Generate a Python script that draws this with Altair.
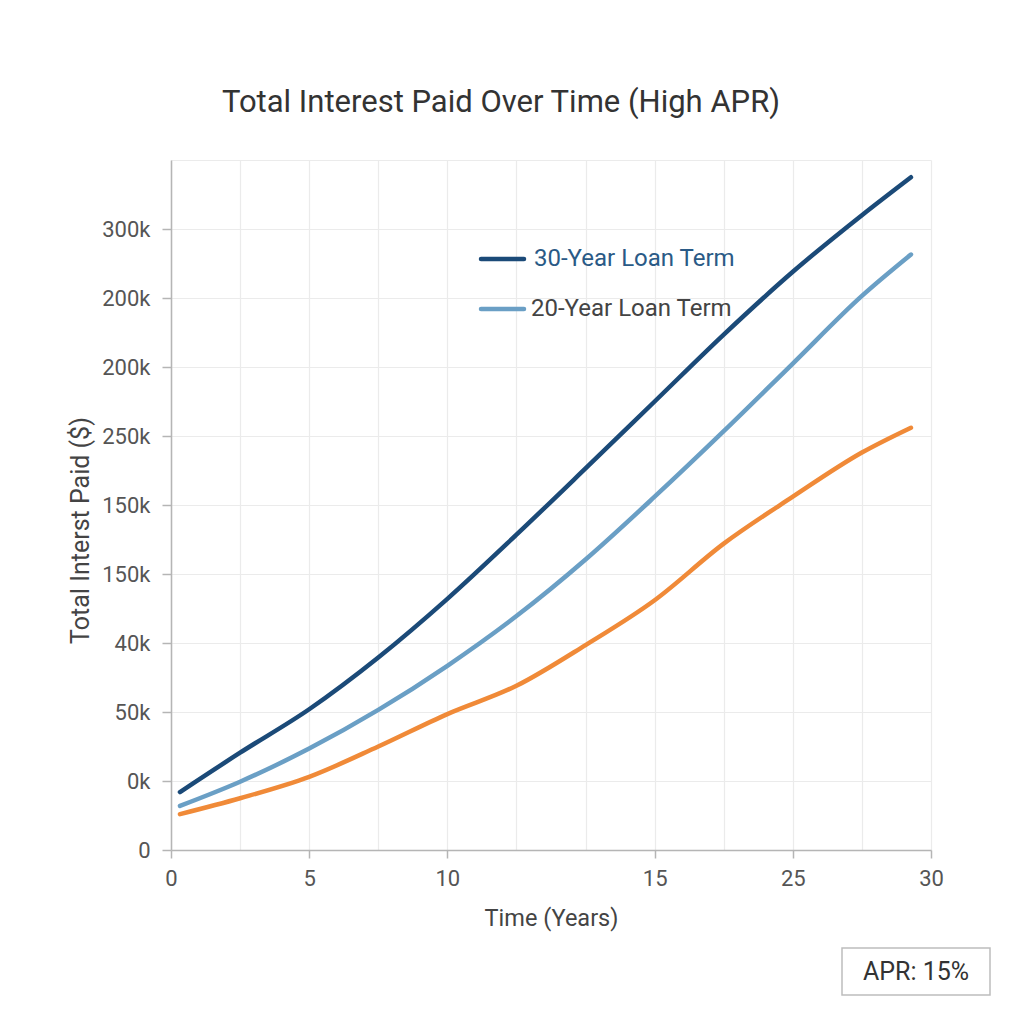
import json

import altair as alt
import pandas as pd

# Readings along the time axis, in grid steps (the axis has 11 equal steps)
steps = [0.13, 1, 2, 3, 4, 5, 6, 7, 8, 9, 10, 10.71]

# Cumulative interest, in grid steps of the value axis (10 equal steps)
interest_30yr = [0.84, 1.41, 2.04, 2.79, 3.64, 4.57, 5.53, 6.50, 7.47, 8.38, 9.20, 9.75]
interest_20yr = [0.64, 0.99, 1.47, 2.03, 2.67, 3.39, 4.21, 5.12, 6.07, 7.05, 8.03, 8.63]
interest_15yr = [0.52, 0.75, 1.06, 1.50, 1.97, 2.38, 2.97, 3.62, 4.44, 5.12, 5.76, 6.12]

terms = ["30-Year Loan Term", "20-Year Loan Term", "15-Year Loan Term"]
term_colors = ["#1b4a78", "#6a9fc5", "#f08a38"]

# Tick labels
x_tick_steps = [0, 2, 4, 7, 9, 11]
x_tick_labels = ["0", "5", "10", "15", "25", "30"]
y_tick_labels = ["0", "0k", "50k", "40k", "150k", "150k", "250k", "200k", "200k", "300k"]

apr_text = "APR: 15%"

rows = []
for term, values in zip(terms, [interest_30yr, interest_20yr, interest_15yr]):
    for s, v in zip(steps, values):
        rows.append({"term": term, "step": s, "interest": v})
df = pd.DataFrame(rows)

x_label_array = ["" for _ in range(12)]
for s, lab in zip(x_tick_steps, x_tick_labels):
    x_label_array[s] = lab

FONT = "Roboto"

x_axis = alt.Axis(
    values=list(range(12)),
    labelExpr=f"{json.dumps(x_label_array)}[datum.value]",
    labelFlush=False,
    tickOpacity={
        "condition": {"test": f"indexof({json.dumps(x_tick_steps)}, datum.value) < 0", "value": 0},
        "value": 1,
    },
    title="Time (Years)",
    titleY=75,
    titleBaseline="alphabetic",
    titleFontSize=23.5,
    tickSize=8,
    labelPadding=10,
)

y_axis = alt.Axis(
    values=list(range(11)),
    labelExpr=f"datum.value < 10 ? {json.dumps(y_tick_labels)}[datum.value] : ''",
    tickOpacity={"condition": {"test": "datum.value >= 10", "value": 0}, "value": 1},
    title="Total Interst Paid ($)",
    titleX=-83,
    titleY=370,
    titleAngle=-90,
    titleAlign="center",
    titleBaseline="alphabetic",
    titleFontSize=25,
    tickSize=9,
    labelPadding=12,
)

lines = (
    alt.Chart(df)
    .mark_line(strokeWidth=4.5, strokeCap="round", strokeJoin="round", interpolate="monotone")
    .encode(
        x=alt.X("step:Q", scale=alt.Scale(domain=[0, 11], nice=False, zero=False), axis=x_axis),
        y=alt.Y("interest:Q", scale=alt.Scale(domain=[0, 10], nice=False, zero=False), axis=y_axis),
        color=alt.Color("term:N", scale=alt.Scale(domain=terms, range=term_colors), legend=None),
        order=alt.Order("step:Q"),
    )
)

# Hand-placed legend for the two longer terms
legend_layers = []
legend_spec = [
    (terms[0], term_colors[0], "#2a5a86", 99, 363),
    (terms[1], term_colors[1], "#444444", 149, 360),
]
for name, line_color, text_color, ypos, text_x in legend_spec:
    entry = pd.DataFrame({"term": [name]})
    legend_layers.append(
        alt.Chart(entry)
        .mark_rule(strokeWidth=4.5, strokeCap="round", color=line_color)
        .encode(x=alt.value(310), x2=alt.value(353), y=alt.value(ypos))
    )
    legend_layers.append(
        alt.Chart(entry)
        .mark_text(align="left", baseline="middle", font=FONT, fontSize=24, color=text_color)
        .encode(x=alt.value(text_x), y=alt.value(ypos), text="term:N")
    )

apr_df = pd.DataFrame({"label": [apr_text]})
apr_box = (
    alt.Chart(apr_df)
    .mark_rect(fill="white", stroke="#bdbdbd", strokeWidth=1.5)
    .encode(x=alt.value(671), x2=alt.value(819), y=alt.value(788), y2=alt.value(835))
)
apr_label = (
    alt.Chart(apr_df)
    .mark_text(align="center", baseline="middle", font=FONT, fontSize=25, color="#333333")
    .encode(x=alt.value(745), y=alt.value(812), text="label:N")
)

chart = (
    alt.layer(lines, *legend_layers, apr_box, apr_label)
    .properties(
        width=760,
        height=690,
        autosize=alt.AutoSizeParams(type="none"),
        padding={"left": 171, "top": 160, "right": 93, "bottom": 174},
        title=alt.Title(
            "Total Interest Paid Over Time (High APR)",
            font=FONT,
            fontSize=31,
            fontWeight="normal",
            color="#333333",
            anchor="middle",
            dx=-50,
            offset=17,
            baseline="alphabetic",
        ),
        background="white",
    )
    .configure_view(stroke=None)
    .configure_axis(
        labelFont=FONT,
        labelFontSize=22,
        labelColor="#555555",
        titleFont=FONT,
        titleFontWeight="normal",
        titleColor="#444444",
        domainColor="#b5b5b5",
        domainWidth=1.5,
        tickColor="#b5b5b5",
        tickWidth=1.5,
        gridColor="#ebebeb",
        gridWidth=1.2,
    )
)

chart.save("out.html", embed_options={"renderer": "svg", "actions": False})
